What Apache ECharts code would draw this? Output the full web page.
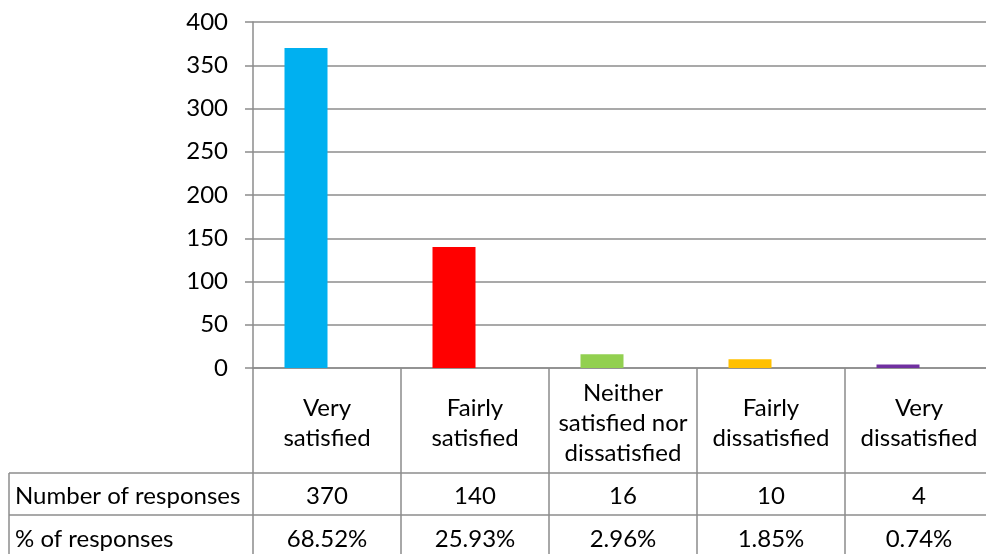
<!DOCTYPE html>
<html>
<head>
<meta charset="utf-8">
<script src="https://cdn.jsdelivr.net/npm/echarts@6/dist/echarts.min.js"></script>
<style>
  html, body { margin: 0; padding: 0; background: #fff; }
  #chart { width: 986px; height: 554px; }
</style>
</head>
<body>
<div id="chart"></div>
<script>
// Survey satisfaction results
const categories = ['Very satisfied', 'Fairly satisfied', 'Neither satisfied nor dissatisfied', 'Fairly dissatisfied', 'Very dissatisfied'];
const categoryLabels = ['Very\nsatisfied', 'Fairly\nsatisfied', 'Neither\nsatisfied nor\ndissatisfied', 'Fairly\ndissatisfied', 'Very\ndissatisfied'];
const responses = [370, 140, 16, 10, 4];
const shares = ['68.52%', '25.93%', '2.96%', '1.85%', '0.74%'];
const rowHeaders = ['Number of responses', '% of responses'];
const barColors = ['#00B0F0', '#FF0000', '#92D050', '#FFC000', '#7030A0'];
const yMin = 0, yMax = 400, yStep = 50;

const FONT = 'Lato, "Open Sans", sans-serif';
const FS = 24;
const LINE = '#8c8c8c';
const LW = 1.5;

// layout of the plot and the data table beneath it (the table runs past the right edge)
const plotLeft = 253, plotWidth = 740, plotTop = 22, plotHeight = 346;
const row1Top = 473, row2Top = 515, rowH = 42, tableLeft = 9;
const barShift = 21;

const chart = echarts.init(document.getElementById('chart'), null, { renderer: 'canvas' });

const textStyle = { fontFamily: FONT, fontSize: FS, color: '#000' };
const gridBase = { outerBoundsMode: 'none', containLabel: false };

chart.setOption({
  animation: false,
  grid: [
    Object.assign({ left: plotLeft, width: plotWidth, top: plotTop, height: plotHeight }, gridBase),
    Object.assign({ left: plotLeft - barShift, width: plotWidth, top: plotTop, height: plotHeight }, gridBase),
    Object.assign({ left: plotLeft, width: plotWidth, top: row1Top, height: rowH / 2 + 2 }, gridBase),
    Object.assign({ left: plotLeft, width: plotWidth, top: row2Top, height: rowH / 2 + 3 }, gridBase)
  ],
  xAxis: [
    {
      gridIndex: 0, type: 'category', data: categoryLabels,
      axisLine: { show: true, lineStyle: { color: LINE, width: LW } },
      axisTick: { show: true, interval: 0, length: 200, lineStyle: { color: LINE, width: LW } },
      axisLabel: Object.assign({ interval: 0, margin: 55, verticalAlign: 'middle', lineHeight: 30, align: 'center' }, textStyle)
    },
    { gridIndex: 1, type: 'category', data: categories, show: false },
    {
      gridIndex: 2, type: 'category', data: responses.map(String),
      axisLine: { show: false }, axisTick: { show: false },
      axisLabel: Object.assign({ interval: 0, margin: 0, verticalAlign: 'middle' }, textStyle)
    },
    {
      gridIndex: 3, type: 'category', data: shares,
      axisLine: { show: false }, axisTick: { show: false },
      axisLabel: Object.assign({ interval: 0, margin: 0, verticalAlign: 'middle' }, textStyle)
    }
  ],
  yAxis: [
    {
      gridIndex: 0, type: 'value', min: yMin, max: yMax, interval: yStep,
      axisLine: { show: true, lineStyle: { color: LINE, width: LW } },
      axisTick: { show: true, length: 8, lineStyle: { color: LINE, width: LW } },
      splitLine: { show: true, lineStyle: { color: LINE, width: LW } },
      axisLabel: Object.assign({ margin: 25 }, textStyle)
    },
    { gridIndex: 1, type: 'value', min: yMin, max: yMax, show: false },
    { gridIndex: 2, type: 'value', show: false },
    { gridIndex: 3, type: 'value', show: false }
  ],
  series: [
    {
      type: 'bar', xAxisIndex: 1, yAxisIndex: 1, barWidth: 43,
      data: responses.map((v, i) => ({ value: v, itemStyle: { color: barColors[i] } }))
    }
  ],
  graphic: [
    // table row borders
    { type: 'line', silent: true, shape: { x1: tableLeft, y1: row1Top, x2: 986, y2: row1Top }, style: { stroke: LINE, lineWidth: LW } },
    { type: 'line', silent: true, shape: { x1: tableLeft, y1: row2Top, x2: 986, y2: row2Top }, style: { stroke: LINE, lineWidth: LW } },
    { type: 'line', silent: true, shape: { x1: tableLeft, y1: row1Top, x2: tableLeft, y2: 554 }, style: { stroke: LINE, lineWidth: LW } },
    // row headers
    ...rowHeaders.map((t, i) => ({
      type: 'text', silent: true,
      x: tableLeft + 6, y: (i === 0 ? row1Top : row2Top) + rowH / 2 + 2 + i,
      style: { text: t, fontFamily: FONT, fontSize: FS, fill: '#000', verticalAlign: 'middle', align: 'left' }
    }))
  ]
});
</script>
</body>
</html>
